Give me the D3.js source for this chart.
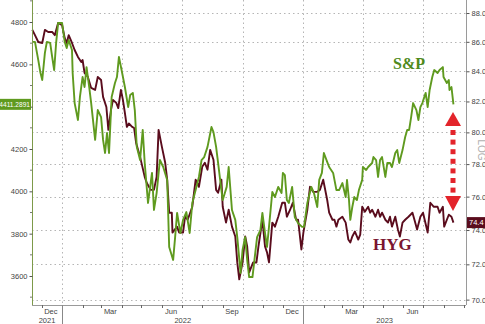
<!DOCTYPE html>
<html>
<head>
<meta charset="utf-8">
<script src="https://cdn.jsdelivr.net/npm/d3@7"></script>
<style>
html,body{margin:0;padding:0;background:#fff;overflow:hidden;}
svg{display:block;font-family:"Liberation Sans",Arial,sans-serif;}
</style>
</head>
<body>
<svg id="chart" width="485" height="324"></svg>
<script>
// ---------- DATA ----------
const spxDates = ["2021-11-17","2021-11-21","2021-11-26","2021-11-29","2021-12-02","2021-12-06","2021-12-09","2021-12-14","2021-12-17","2021-12-20","2021-12-23","2021-12-26",
"2022-01-01","2022-01-05","2022-01-08","2022-01-11","2022-01-16","2022-01-17","2022-01-20","2022-01-25","2022-01-28","2022-02-01","2022-02-04","2022-02-07","2022-02-11","2022-02-14","2022-02-20","2022-02-24",
"2022-03-01","2022-03-04","2022-03-07","2022-03-10","2022-03-13","2022-03-17","2022-03-22","2022-03-25","2022-03-28","2022-04-01","2022-04-06","2022-04-11","2022-04-14","2022-04-18","2022-04-21","2022-04-24","2022-04-29",
"2022-05-03","2022-05-06","2022-05-11","2022-05-17","2022-05-20","2022-05-24","2022-05-29","2022-06-03","2022-06-09","2022-06-12","2022-06-18","2022-06-21","2022-06-24","2022-06-29",
"2022-07-03","2022-07-08","2022-07-13","2022-07-17","2022-07-22","2022-07-27","2022-07-31","2022-08-04","2022-08-09","2022-08-15","2022-08-18","2022-08-22","2022-08-25","2022-08-30",
"2022-09-01","2022-09-07","2022-09-10","2022-09-15","2022-09-20","2022-09-23","2022-09-28","2022-10-01","2022-10-05","2022-10-08","2022-10-11","2022-10-16","2022-10-19","2022-10-23","2022-10-28","2022-10-31",
"2022-11-04","2022-11-07","2022-11-10","2022-11-15","2022-11-19","2022-11-24","2022-11-29","2022-12-01","2022-12-04","2022-12-07","2022-12-10","2022-12-15","2022-12-19","2022-12-24","2022-12-30",
"2023-01-02","2023-01-07","2023-01-13","2023-01-17","2023-01-22","2023-01-25","2023-01-29","2023-02-01","2023-02-06","2023-02-09","2023-02-15","2023-02-20","2023-02-24",
"2023-03-01","2023-03-06","2023-03-08","2023-03-11","2023-03-13","2023-03-16","2023-03-19","2023-03-23","2023-03-26","2023-03-31","2023-04-01","2023-04-06","2023-04-09","2023-04-15","2023-04-17","2023-04-21","2023-04-24","2023-04-27","2023-04-30",
"2023-05-05","2023-05-08","2023-05-12","2023-05-15","2023-05-20","2023-05-23","2023-05-26","2023-05-31","2023-06-04","2023-06-07","2023-06-10","2023-06-13","2023-06-16","2023-06-21","2023-06-24","2023-06-27","2023-06-30",
"2023-07-05","2023-07-08","2023-07-11","2023-07-15","2023-07-18","2023-07-23","2023-07-26","2023-07-31","2023-08-01","2023-08-06","2023-08-09","2023-08-10","2023-08-13","2023-08-16"];
const spxValues = [4706,4706,4620,4564,4526,4654,4706,4701,4635,4573,4701,4795,
4795,4706,4677,4715,4668,4559,4417,4337,4446,4540,4493,4587,4493,4417,4243,4384,
4351,4243,4181,4276,4181,4446,4512,4540,4635,4573,4493,4398,4455,4465,4384,4210,4148,
4290,4134,3945,4087,3912,3992,4148,4115,4054,3737,3676,3784,3898,3803,
3865,3902,3803,3945,4006,4068,4148,4162,4210,4304,4280,4210,4134,4006,
3959,4021,4115,3912,3865,3784,3614,3723,3784,3676,3595,3595,3676,3784,3817,3898,
3803,3737,3832,3997,3973,4021,3992,4087,4077,3959,3945,4021,3879,3850,3832,
3832,3945,4021,3992,3926,4054,4087,4181,4139,4115,4087,4006,4006,
4039,3973,4054,3959,3865,3926,3973,3959,4006,4054,4115,4101,4115,4134,4162,4148,4068,4148,4162,
4068,4134,4134,4115,4181,4195,4134,4195,4257,4290,4290,4351,4417,4384,4337,4398,4417,
4465,4398,4479,4540,4573,4559,4573,4587,4540,4512,4526,4479,4493,4411];

const hygDates = ["2021-11-17","2021-11-21","2021-11-26","2021-12-02","2021-12-06","2021-12-11","2021-12-17","2021-12-21","2021-12-26",
"2022-01-01","2022-01-05","2022-01-08","2022-01-11","2022-01-16","2022-01-20","2022-01-25","2022-01-30","2022-02-01","2022-02-04","2022-02-09","2022-02-14","2022-02-20","2022-02-24",
"2022-03-01","2022-03-04","2022-03-09","2022-03-12","2022-03-16","2022-03-19","2022-03-24","2022-03-27","2022-03-31","2022-04-03","2022-04-06","2022-04-09","2022-04-12","2022-04-17","2022-04-20","2022-04-23","2022-04-29",
"2022-05-06","2022-05-09","2022-05-15","2022-05-20","2022-05-24","2022-05-27","2022-06-01","2022-06-06","2022-06-09","2022-06-12","2022-06-16","2022-06-17","2022-06-24","2022-06-27",
"2022-07-03","2022-07-06","2022-07-10","2022-07-17","2022-07-22","2022-07-27","2022-08-01","2022-08-05","2022-08-09","2022-08-13","2022-08-18","2022-08-22","2022-08-25","2022-08-30",
"2022-09-01","2022-09-06","2022-09-10","2022-09-15","2022-09-20","2022-09-23","2022-09-26","2022-10-01","2022-10-05","2022-10-08","2022-10-11","2022-10-17","2022-10-22","2022-10-25","2022-10-31",
"2022-11-04","2022-11-07","2022-11-10","2022-11-15","2022-11-19","2022-11-24","2022-11-30","2022-12-04","2022-12-07","2022-12-12","2022-12-16","2022-12-21","2022-12-24","2022-12-29",
"2023-01-01","2023-01-07","2023-01-11","2023-01-16","2023-01-22","2023-01-26","2023-01-31","2023-02-06","2023-02-09","2023-02-14","2023-02-17","2023-02-20","2023-02-23",
"2023-03-01","2023-03-06","2023-03-10","2023-03-13","2023-03-16","2023-03-20","2023-03-25","2023-03-28","2023-03-31","2023-04-04","2023-04-09","2023-04-12","2023-04-15","2023-04-20","2023-04-24","2023-04-27","2023-04-30",
"2023-05-05","2023-05-09","2023-05-12","2023-05-15","2023-05-20","2023-05-24","2023-05-27","2023-05-31","2023-06-04","2023-06-09","2023-06-15","2023-06-18","2023-06-22","2023-06-27",
"2023-07-01","2023-07-08","2023-07-12","2023-07-17","2023-07-23","2023-07-26","2023-07-31","2023-08-02","2023-08-09","2023-08-13","2023-08-16"];
const hygValues = [86.82,86.46,85.99,85.92,86.82,86.68,86.68,86.46,87.30,
87.16,86.25,85.92,86.46,85.92,85.44,84.97,84.62,84.76,83.89,83.62,82.89,82.76,83.62,
83.42,82.30,81.64,80.16,81.45,82.10,81.91,81.57,82.76,82.10,81.26,80.35,80.57,80.35,80.28,79.33,78.45,
77.21,76.85,76.41,76.41,77.21,80.16,79.08,78.08,77.03,75.03,75.03,73.85,74.20,73.85,
73.85,74.79,74.61,75.39,77.03,76.60,77.83,78.08,77.65,78.89,78.27,76.41,76.23,77.03,
75.39,74.44,75.21,74.20,73.62,72.11,71.14,72.11,73.62,73.03,71.54,72.11,72.11,73.03,74.61,
73.03,72.69,72.11,74.44,74.20,74.79,75.63,75.63,74.79,75.21,75.63,74.61,74.61,72.86,
73.85,75.21,76.60,76.29,76.29,76.41,77.03,75.81,75.03,74.61,74.61,74.20,74.61,
74.79,74.44,73.44,73.27,73.62,73.91,73.44,73.73,75.39,75.09,75.39,75.03,75.21,74.79,75.21,74.79,75.03,
74.61,74.44,74.79,74.20,74.79,74.03,73.62,74.44,74.61,74.79,75.03,74.61,74.03,74.79,
75.03,73.85,75.63,75.39,75.39,75.03,75.39,74.20,74.91,74.79,74.44];

const leftTicks = [3600,3800,4000,4200,4400,4600,4800];
const leftMinorTicks = [3500,3700,3900,4100,4300,4500,4700,4900];
const rightTicks = [70,72,74,76,78,80,82,84,86,88];
const monthLabels = [["2021-12-15","Dec"],["2022-03-15","Mar"],["2022-06-15","Jun"],["2022-09-15","Sep"],["2022-12-15","Dec"],["2023-03-15","Mar"],["2023-06-15","Jun"]];
const yearLabels = ["2021","2022","2023"];
const spxLast = "4411.2891";
const hygLast = "74.4";
const spxName = "S&P";
const hygName = "HYG";

// ---------- SCALES ----------
const parse = d3.utcParse("%Y-%m-%d");
const W = 485, H = 324;
const L = 32, R = 466, T = 0, B = 305;
const x = d3.scaleUtc().domain([new Date(Date.UTC(2021,10,16,12)), new Date(Date.UTC(2023,8,4))]).range([L, R]);
const yL = d3.scaleLinear().domain([3463, 4904]).range([B, T]);
const yR = d3.scaleLog().domain([69.7, 88.92]).range([B, T]);

const svg = d3.select("#chart");
const green = "#5f9a1f", maroon = "#5a0c1d", grid = "#b5b5b5", axisGrey = "#9a9a9a", txt = "#444";

// ---------- GRID ----------
const g = svg.append("g");
g.selectAll("line.h").data(rightTicks).join("line")
  .attr("x1", L).attr("x2", R).attr("y1", d => Math.round(yR(d)) + 0.5).attr("y2", d => Math.round(yR(d)) + 0.5)
  .attr("stroke", grid).attr("stroke-width", 1).attr("stroke-dasharray", "1.5,3");
const quarters = d3.utcMonth.every(3).range(new Date(Date.UTC(2022,0,1)), new Date(Date.UTC(2023,8,1)));
g.selectAll("line.v").data(quarters).join("line")
  .attr("x1", d => Math.round(x(d)) + 0.5).attr("x2", d => Math.round(x(d)) + 0.5).attr("y1", T).attr("y2", B)
  .attr("stroke", grid).attr("stroke-width", 1).attr("stroke-dasharray", "1.5,3");

// ---------- LINES ----------
const spx = spxDates.map((d, i) => [parse(d), spxValues[i]]);
const hyg = hygDates.map((d, i) => [parse(d), hygValues[i]]);
svg.append("path").datum(hyg)
  .attr("d", d3.line().x(d => x(d[0])).y(d => yR(d[1])))
  .attr("fill", "none").attr("stroke", maroon).attr("stroke-width", 1.9).attr("stroke-linejoin", "round");
svg.append("path").datum(spx)
  .attr("d", d3.line().x(d => x(d[0])).y(d => yL(d[1])))
  .attr("fill", "none").attr("stroke", green).attr("stroke-width", 1.9).attr("stroke-linejoin", "round");

// ---------- AXES ----------
const ySpx = yL(spxValues[spxValues.length - 1]);
// left axis (labels hidden where the last-value tag sits, as in the reference)
const la = svg.append("g").attr("transform", `translate(${L + 0.5},0)`)
  .call(d3.axisLeft(yL).tickValues(leftTicks).tickSize(3).tickPadding(2).tickFormat(d3.format("d")));
la.select(".domain").attr("stroke", "#7d9a4a").attr("d", `M0,${T}V${B}`);
la.selectAll(".tick line").attr("stroke", "#555");
la.selectAll(".tick text").attr("fill", txt).attr("font-size", 7.5).attr("font-family", "Liberation Sans, Arial")
  .filter(d => Math.abs(yL(d) - ySpx) < 10).remove();
svg.append("g").selectAll("line").data(leftMinorTicks).join("line")
  .attr("x1", L - 2).attr("x2", L).attr("y1", d => yL(d)).attr("y2", d => yL(d)).attr("stroke", "#777");

// right axis
const ra = svg.append("g").attr("transform", `translate(${R + 0.5},0)`)
  .call(d3.axisRight(yR).tickValues(rightTicks).tickSize(3).tickPadding(2).tickFormat(d3.format(".1f")));
ra.select(".domain").attr("stroke", axisGrey).attr("d", `M0,${T}V${B}`);
ra.selectAll(".tick line").attr("stroke", "#555");
ra.selectAll(".tick text").attr("fill", txt).attr("font-size", 7.5).attr("font-family", "Liberation Sans, Arial");

// bottom axis
svg.append("line").attr("x1", L).attr("x2", R).attr("y1", B + 0.5).attr("y2", B + 0.5).attr("stroke", axisGrey);
const months = d3.utcMonth.range(new Date(Date.UTC(2021,11,1)), new Date(Date.UTC(2023,8,2)));
svg.append("g").selectAll("line").data(months).join("line")
  .attr("x1", d => Math.round(x(d)) + 0.5).attr("x2", d => Math.round(x(d)) + 0.5)
  .attr("y1", B).attr("y2", B + 3).attr("stroke", "#666");
const years = [new Date(Date.UTC(2022,0,1)), new Date(Date.UTC(2023,0,1))];
svg.append("g").selectAll("line").data(years).join("line")
  .attr("x1", d => Math.round(x(d)) + 0.5).attr("x2", d => Math.round(x(d)) + 0.5)
  .attr("y1", B).attr("y2", H).attr("stroke", "#888");
svg.append("g").selectAll("text").data(monthLabels).join("text")
  .attr("x", d => x(parse(d[0]))).attr("y", 314).attr("text-anchor", "middle")
  .attr("font-size", 7.5).attr("fill", txt).text(d => d[1]);
const yearBounds = [[x.domain()[0], years[0]], [years[0], years[1]], [years[1], x.domain()[1]]];
svg.append("g").selectAll("text").data(yearLabels).join("text")
  .attr("x", (d, i) => (x(yearBounds[i][0]) + x(yearBounds[i][1])) / 2).attr("y", 323).attr("text-anchor", "middle")
  .attr("font-size", 7.5).attr("fill", txt).text(d => d);

// LOG label
svg.append("text").attr("transform", `translate(477.5,150) rotate(90)`)
  .attr("text-anchor", "middle").attr("font-size", 10).attr("fill", "#b0b0b0").text("LOG");

// ---------- LAST VALUE TAGS ----------
svg.append("rect").attr("x", 0).attr("y", ySpx - 5.5).attr("width", L - 1).attr("height", 11).attr("fill", green);
svg.append("text").attr("x", L - 2).attr("y", ySpx + 2.4).attr("text-anchor", "end")
  .attr("font-size", 6.6).attr("fill", "#fff").text(spxLast);
const yHyg = yR(hygValues[hygValues.length - 1]);
svg.append("rect").attr("x", R + 1).attr("y", yHyg - 5.5).attr("width", 30).attr("height", 11).attr("fill", maroon);
svg.append("text").attr("x", R + 3).attr("y", yHyg + 2.6)
  .attr("font-size", 7.5).attr("fill", "#fff").text(hygLast);

// ---------- ANNOTATIONS ----------
svg.append("text").attr("x", 393).attr("y", 69)
  .attr("font-family", "Liberation Serif, Times New Roman, serif").attr("font-weight", "bold")
  .attr("font-size", 16).attr("fill", "#4f8a1c").text(spxName);
svg.append("text").attr("x", 373).attr("y", 250)
  .attr("font-family", "Liberation Serif, Times New Roman, serif").attr("font-weight", "bold")
  .attr("font-size", 17).attr("fill", "#7a1530").text(hygName);

// red dotted double arrow between S&P end and HYG end
const ax = 453;
const aTop = 112, aBot = 211;
const red = "#e3242b";
svg.append("path").attr("d", `M${ax},${aTop}L${ax + 8},${aTop + 14}L${ax - 8},${aTop + 14}Z`).attr("fill", red);
svg.append("path").attr("d", `M${ax},${aBot}L${ax + 8},${aBot - 15}L${ax - 8},${aBot - 15}Z`).attr("fill", red);
const sq = d3.range(7).map(i => aTop + 18 + i * 9.6);
svg.append("g").selectAll("rect").data(sq).join("rect")
  .attr("x", ax - 2.5).attr("y", d => d).attr("width", 5).attr("height", 5).attr("fill", red);
</script>
</body>
</html>
